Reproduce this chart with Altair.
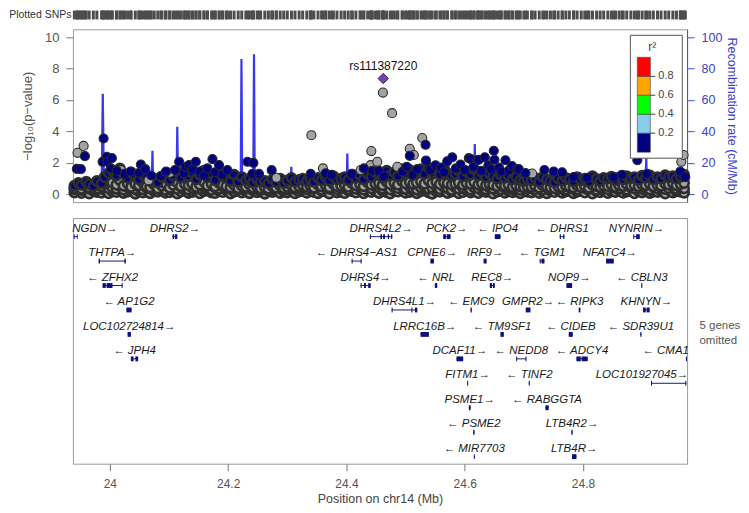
import altair as alt
import pandas as pd

# ---------------- data ----------------
# dense band of SNPs (position in Mb on chr14)
band_pos = [
    23.940, 23.947, 23.952, 23.960, 23.965, 23.972, 23.978, 23.986, 23.991, 23.998,
    24.004, 24.011, 24.017, 24.023, 24.030, 24.036, 24.043, 24.049, 24.056, 24.062,
    24.068, 24.075, 24.081, 24.088, 24.094, 24.101, 24.107, 24.114, 24.120, 24.127,
    24.133, 24.139, 24.146, 24.152, 24.159, 24.165, 24.172, 24.178, 24.185, 24.191,
    24.197, 24.204, 24.210, 24.217, 24.223, 24.230, 24.236, 24.242, 24.249, 24.255,
    24.262, 24.268, 24.275, 24.281, 24.288, 24.294, 24.300, 24.307, 24.313, 24.320,
    24.326, 24.333, 24.339, 24.345, 24.352, 24.358, 24.365, 24.371, 24.378, 24.384,
    24.391, 24.397, 24.403, 24.410, 24.416, 24.423, 24.429, 24.436, 24.442, 24.449,
    24.455, 24.461, 24.468, 24.474, 24.481, 24.487, 24.494, 24.500, 24.507, 24.513,
    24.519, 24.526, 24.532, 24.539, 24.545, 24.552, 24.558, 24.565, 24.571, 24.578,
    24.584, 24.590, 24.597, 24.603, 24.610, 24.616, 24.623, 24.629, 24.636, 24.642,
    24.648, 24.655, 24.661, 24.668, 24.674, 24.681, 24.687, 24.694, 24.700, 24.706,
    24.713, 24.719, 24.726, 24.732, 24.739, 24.745, 24.752, 24.758, 24.765, 24.771,
    24.777, 24.784, 24.790, 24.797, 24.803, 24.810, 24.816, 24.823, 24.829, 24.835,
    24.842, 24.848, 24.855, 24.861, 24.868, 24.874, 24.881, 24.887, 24.894, 24.900,
    24.906, 24.913, 24.919, 24.926, 24.932, 24.939, 24.945, 24.952, 24.958, 24.965,
    24.971,
]
band_lo = [
    0.12, 0.25, 0.08, 0.18, 0.05, 0.22, 0.15, 0.10, 0.28, 0.06,
    0.20, 0.14, 0.30, 0.09, 0.17, 0.24, 0.04, 0.19, 0.11, 0.26,
    0.07, 0.21, 0.16, 0.29, 0.10, 0.13, 0.23, 0.05, 0.18, 0.27,
    0.09, 0.15, 0.22, 0.06, 0.19, 0.25, 0.12, 0.08, 0.21, 0.14,
    0.27, 0.05, 0.17, 0.23, 0.11, 0.20, 0.07, 0.26, 0.13, 0.18,
    0.04, 0.22, 0.15, 0.28, 0.09, 0.19, 0.12, 0.24, 0.06, 0.17,
    0.21, 0.10, 0.26, 0.14, 0.07, 0.23, 0.18, 0.05, 0.29, 0.12,
    0.16, 0.08, 0.25, 0.20, 0.11, 0.27, 0.06, 0.19, 0.14, 0.22,
    0.09, 0.24, 0.13, 0.05, 0.21, 0.17, 0.28, 0.10, 0.15, 0.23,
    0.07, 0.19, 0.26, 0.12, 0.04, 0.20, 0.16, 0.25, 0.09, 0.18,
    0.22, 0.06, 0.14, 0.27, 0.11, 0.19, 0.08, 0.24, 0.15, 0.21,
    0.05, 0.17, 0.26, 0.10, 0.23, 0.13, 0.20, 0.07, 0.28, 0.16,
    0.12, 0.25, 0.09, 0.19, 0.06, 0.22, 0.14, 0.27, 0.10, 0.18,
    0.24, 0.07, 0.16, 0.21, 0.11, 0.26, 0.05, 0.19, 0.13, 0.23,
    0.08, 0.20, 0.15, 0.28, 0.10, 0.17, 0.24, 0.06, 0.21, 0.12,
    0.25, 0.09, 0.18, 0.14, 0.22, 0.05, 0.27, 0.11, 0.19, 0.16,
    0.10,
]
band_lo2 = [
    0.32, 0.45, 0.28, 0.40, 0.35, 0.48, 0.30, 0.42, 0.50, 0.38,
    0.44, 0.36, 0.52, 0.30, 0.46, 0.40, 0.34, 0.49, 0.31, 0.43,
    0.37, 0.47, 0.33, 0.51, 0.29, 0.41, 0.45, 0.35, 0.48, 0.39,
    0.30, 0.42, 0.50, 0.34, 0.46, 0.38, 0.29, 0.44, 0.36, 0.49,
    0.41, 0.33, 0.47, 0.30, 0.43, 0.36, 0.50, 0.32, 0.45, 0.28,
    0.35, 0.46, 0.30, 0.42, 0.38, 0.49, 0.31, 0.44, 0.34, 0.40,
    0.47, 0.32, 0.43, 0.37, 0.50, 0.29, 0.41, 0.36, 0.48, 0.33,
    0.39, 0.45, 0.31, 0.48, 0.35, 0.42, 0.30, 0.46, 0.38, 0.51,
    0.43, 0.36, 0.49, 0.32, 0.45, 0.40, 0.52, 0.34, 0.47, 0.38,
    0.31, 0.44, 0.50, 0.36, 0.42, 0.48, 0.33, 0.46, 0.39, 0.29,
    0.45, 0.35, 0.41, 0.49, 0.30, 0.43, 0.38, 0.47, 0.32, 0.44,
    0.36, 0.48, 0.31, 0.42, 0.46, 0.34, 0.40, 0.29, 0.45, 0.37,
    0.41, 0.33, 0.47, 0.30, 0.44, 0.38, 0.49, 0.35, 0.42, 0.31,
    0.46, 0.37, 0.32, 0.48, 0.40, 0.34, 0.45, 0.29, 0.43, 0.39,
    0.33, 0.47, 0.41, 0.36, 0.50, 0.30, 0.44, 0.38, 0.46, 0.35,
    0.42, 0.31, 0.48, 0.37, 0.45, 0.33, 0.40, 0.49, 0.34, 0.43,
    0.38,
]
band_mid = [
    0.40, 0.55, 0.35, 0.50, 0.45, 0.60, 0.38, 0.52, 0.70, 0.85,
    0.75, 0.62, 0.90, 0.55, 0.70, 0.48, 0.66, 0.58, 0.72, 0.50,
    0.45, 0.62, 0.38, 0.55, 0.68, 0.42, 0.60, 0.75, 0.52, 0.65,
    0.58, 0.70, 0.48, 0.62, 0.80, 0.55, 0.66, 0.50, 0.72, 0.60,
    0.52, 0.45, 0.60, 0.40, 0.55, 0.48, 0.62, 0.42, 0.50, 0.38,
    0.45, 0.36, 0.50, 0.42, 0.55, 0.40, 0.48, 0.58, 0.44, 0.52,
    0.60, 0.47, 0.55, 0.42, 0.62, 0.50, 0.58, 0.45, 0.66, 0.52,
    0.55, 0.62, 0.48, 0.70, 0.58, 0.65, 0.52, 0.75, 0.60, 0.68,
    0.72, 0.58, 0.80, 0.65, 0.75, 0.62, 0.85, 0.70, 0.78, 0.66,
    0.74, 0.82, 0.68, 0.88, 0.72, 0.80, 0.65, 0.76, 0.70, 0.62,
    0.68, 0.75, 0.60, 0.72, 0.66, 0.78, 0.62, 0.70, 0.58, 0.65,
    0.60, 0.52, 0.66, 0.55, 0.62, 0.48, 0.58, 0.50, 0.45, 0.52,
    0.48, 0.55, 0.42, 0.58, 0.50, 0.45, 0.40, 0.52, 0.46, 0.55,
    0.50, 0.44, 0.58, 0.48, 0.55, 0.42, 0.60, 0.52, 0.47, 0.56,
    0.53, 0.62, 0.48, 0.58, 0.52, 0.65, 0.55, 0.60, 0.50, 0.62,
    0.58, 0.66, 0.52, 0.60, 0.55, 0.68, 0.62, 0.70, 0.58, 0.65,
    0.72,
]
band_top = [
    0.55, 0.72, 0.60, 0.80, 0.65, 0.50, 0.85, 0.70, 1.10, 1.35,
    1.50, 1.20, 1.65, 1.30, 1.05, 1.40, 1.15, 0.95, 1.25, 1.10,
    0.85, 1.00, 0.75, 1.10, 1.30, 0.90, 1.20, 1.45, 1.05, 1.35,
    1.15, 1.40, 0.95, 1.25, 1.50, 1.10, 1.30, 0.90, 1.45, 1.20,
    1.05, 0.85, 1.25, 0.80, 1.10, 0.90, 1.00, 0.75, 0.95, 0.80,
    0.85, 0.70, 0.95, 0.78, 1.00, 0.72, 0.88, 1.05, 0.80, 0.92,
    1.00, 0.85, 0.95, 0.80, 1.05, 0.90, 1.10, 0.88, 1.15, 0.95,
    1.00, 1.10, 0.90, 1.25, 1.05, 1.20, 0.95, 1.30, 1.10, 1.40,
    1.30, 1.05, 1.50, 1.20, 1.40, 1.15, 1.60, 1.35, 1.55, 1.25,
    1.45, 1.60, 1.30, 1.70, 1.40, 1.55, 1.25, 1.65, 1.35, 1.20,
    1.30, 1.50, 1.15, 1.45, 1.25, 1.60, 1.20, 1.40, 1.10, 1.30,
    1.15, 1.00, 1.25, 1.05, 1.20, 0.95, 1.10, 0.90, 0.85, 0.95,
    0.90, 1.05, 0.80, 1.10, 0.95, 0.85, 0.78, 1.00, 0.88, 1.05,
    0.95, 0.82, 1.10, 0.90, 1.00, 0.80, 1.15, 0.98, 0.85, 1.05,
    1.00, 1.12, 0.90, 1.08, 0.95, 1.15, 1.02, 1.10, 0.92, 1.18,
    1.05, 1.20, 0.95, 1.10, 1.00, 1.22, 1.08, 1.15, 1.00, 1.12,
    1.25,
]

# SNPs without LD information (grey), standing out of the band
na_pos = [23.9453, 23.9556, 24.0186, 24.0654, 24.1014, 24.2816, 24.3407, 24.3603,
          24.4240, 24.4409, 24.4421, 24.4522, 24.4617, 24.4772, 24.4860, 24.5071,
          24.5140, 24.5282, 24.7140, 24.9662, 24.9701]
na_val = [2.64, 3.08, 1.54, 0.90, 1.37, 1.05, 3.76, 1.65,
          1.55, 1.86, 2.75, 2.07, 6.47, 5.16, 1.75, 2.90,
          2.50, 3.58, 1.32, 2.07, 2.50]

# SNPs with r2 < 0.2 (navy), standing out of the band
nv_pos = [23.9442, 23.9510, 23.9578, 23.9877, 23.9894, 23.9949, 23.9961, 24.0017,
          24.0034, 24.0118, 24.0250, 24.0350, 24.0495, 24.0524, 24.0600, 24.0700,
          24.0861, 24.0950, 24.1100, 24.1171, 24.1250, 24.1284, 24.1340, 24.1400,
          24.1453, 24.1520, 24.1593, 24.1650, 24.1735, 24.1780, 24.1846, 24.1900,
          24.1988, 24.2326, 24.2410, 24.2427, 24.2522, 24.2736, 24.3395, 24.3649,
          24.3750, 24.4088, 24.4296, 24.4438, 24.4549, 24.4633, 24.4950, 24.5020,
          24.5071, 24.5120, 24.5200, 24.5338, 24.5345, 24.5420, 24.5507, 24.5600,
          24.5650, 24.5704, 24.5789, 24.5850, 24.5929, 24.6000, 24.6069, 24.6098,
          24.6150, 24.6211, 24.6238, 24.6280, 24.6340, 24.6400, 24.6450, 24.6492,
          24.6503, 24.6580, 24.6620, 24.6689, 24.6750, 24.6800, 24.6887, 24.6914,
          24.7027, 24.7348, 24.7505, 24.7647, 24.7843, 24.8069, 24.8519, 24.8660,
          24.8919, 24.9083, 24.9645, 24.9730]
nv_val = [1.62, 1.60, 2.43, 2.07, 3.55, 2.39, 2.07, 1.65,
          2.30, 1.50, 1.30, 1.45, 1.37, 1.90, 1.60, 1.20,
          1.16, 1.45, 1.55, 2.07, 1.35, 1.75, 1.86, 1.60,
          2.07, 1.45, 1.20, 1.65, 2.24, 1.40, 1.86, 1.25,
          1.54, 2.07, 1.30, 2.00, 1.30, 1.54, 1.30, 1.34,
          1.24, 1.30, 1.65, 1.50, 1.50, 1.15, 1.45, 1.75,
          2.45, 1.25, 1.60, 3.15, 2.15, 1.55, 1.85, 1.70,
          1.40, 2.10, 2.35, 1.65, 1.90, 1.55, 2.30, 2.25,
          1.75, 2.17, 2.20, 1.50, 2.35, 1.85, 1.60, 2.77,
          2.20, 1.70, 1.45, 2.17, 1.55, 1.80, 1.60, 1.60,
          1.35, 1.55, 1.45, 1.40, 1.10, 1.05, 1.10, 1.25,
          2.17, 1.30, 1.45, 1.10]

lead_name = ["rs111387220"]
lead_pos = [24.4623]
lead_val = [7.36]

# recombination rate (cM/Mb)
recomb_pos = [23.9375, 23.9600, 23.9860, 23.9880, 23.9900, 24.0200, 24.0500, 24.0705,
              24.0720, 24.0735, 24.1000, 24.1125, 24.1140, 24.1155, 24.1500, 24.2000,
              24.2212, 24.2225, 24.2238, 24.2424, 24.2437, 24.2450, 24.2700, 24.3055,
              24.3068, 24.3081, 24.3500, 24.4002, 24.4015, 24.4028, 24.4500, 24.5000,
              24.5500, 24.6157, 24.6170, 24.6183, 24.7000, 24.7932, 24.7945, 24.7958,
              24.8500, 24.9057, 24.9070, 24.9083, 24.9760]
recomb_rate = [1.0, 0.6, 1.4, 64.0, 1.8, 0.8, 1.2, 1.0,
               27.7, 1.0, 0.5, 1.6, 43.0, 1.4, 0.6, 1.0,
               2.5, 86.0, 2.0, 2.8, 89.0, 2.2, 0.5, 1.0,
               17.5, 1.0, 0.8, 1.2, 26.0, 1.0, 0.5, 1.0,
               0.7, 1.0, 32.0, 1.0, 0.6, 1.0, 14.0, 1.0,
               0.8, 2.0, 24.0, 2.0, 1.0]

# genes
gene_name = ["NGDN", "DHRS2", "DHRS4L2", "PCK2", "IPO4", "DHRS1", "NYNRIN",
             "THTPA", "DHRS4\u2212AS1", "CPNE6", "IRF9", "TGM1", "NFATC4",
             "ZFHX2", "DHRS4", "NRL", "REC8", "NOP9", "CBLN3",
             "AP1G2", "DHRS4L1", "EMC9", "GMPR2", "RIPK3", "KHNYN",
             "LOC102724814", "LRRC16B", "TM9SF1", "CIDEB", "SDR39U1",
             "JPH4", "DCAF11", "NEDD8", "ADCY4", "CMA1",
             "FITM1", "TINF2", "LOC101927045",
             "PSME1", "RABGGTA",
             "PSME2", "LTB4R2",
             "MIR7703", "LTB4R"]
gene_strand = ["+", "+", "+", "+", "-", "-", "+",
               "+", "-", "+", "+", "-", "+",
               "-", "+", "-", "+", "+", "-",
               "-", "+", "-", "+", "-", "+",
               "+", "+", "-", "-", "-",
               "-", "+", "-", "-", "-",
               "+", "-", "+",
               "+", "-",
               "-", "+",
               "-", "+"]
gene_row = [1, 1, 1, 1, 1, 1, 1,
            2, 2, 2, 2, 2, 2,
            3, 3, 3, 3, 3, 3,
            4, 4, 4, 4, 4, 4,
            5, 5, 5, 5, 5,
            6, 6, 6, 6, 6,
            7, 7, 7,
            8, 8,
            9, 9,
            10, 10]
gene_start = [23.9390, 24.1060, 24.4397, 24.5636, 24.6509, 24.7607, 24.8850,
              23.9810, 24.4088, 24.5420, 24.6320, 24.7268, 24.8390,
              23.9877, 24.4240, 24.5495, 24.6424, 24.7720, 24.8986,
              24.0280, 24.4764, 24.6098, 24.7032, 24.7928, 24.9014,
              24.0300, 24.5253, 24.6605, 24.7759, 24.8970,
              24.0355, 24.5861, 24.6870, 24.7889, 24.9740,
              24.6042, 24.7083, 24.9150,
              24.6070, 24.7365,
              24.6143, 24.7804,
              24.6154, 24.7815]
gene_end = [23.9455, 24.1140, 24.4775, 24.5760, 24.6605, 24.7686, 24.8960,
            24.0270, 24.4257, 24.5480, 24.6370, 24.7348, 24.8520,
            24.0215, 24.4409, 24.5535, 24.6509, 24.7816, 24.9003,
            24.0367, 24.5198, 24.6120, 24.7111, 24.7956, 24.9127,
            24.0355, 24.5394, 24.6661, 24.7827, 24.8990,
            24.0478, 24.5974, 24.7044, 24.8080, 24.9755,
            24.6056, 24.7100, 24.9747,
            24.6100, 24.7420,
            24.6166, 24.7826,
            24.6168, 24.7889]

# exon blocks of the genes drawn with visible introns
exon_gene = ["NGDN", "NGDN", "DHRS2", "DHRS2",
             "DHRS4L2", "DHRS4L2", "DHRS4L2", "DHRS4L2", "DHRS4L2",
             "PCK2", "PCK2", "DHRS1", "DHRS1", "NYNRIN", "NYNRIN",
             "THTPA", "THTPA", "DHRS4\u2212AS1", "DHRS4\u2212AS1", "TGM1", "TGM1",
             "ZFHX2", "ZFHX2", "ZFHX2", "DHRS4", "DHRS4", "DHRS4", "REC8", "REC8",
             "DHRS4L1", "DHRS4L1", "DHRS4L1", "KHNYN", "KHNYN",
             "JPH4", "JPH4", "NEDD8", "NEDD8", "ADCY4", "ADCY4",
             "LOC101927045", "LOC101927045"]
exon_start = [23.9390, 23.9441, 24.1060, 24.1102,
              24.4397, 24.4575, 24.4620, 24.4700, 24.4755,
              24.5636, 24.5696, 24.7607, 24.7664, 24.8850, 24.8898,
              23.9810, 24.0246, 24.4088, 24.4240, 24.7268, 24.7298,
              23.9877, 23.9945, 24.0199, 24.4240, 24.4298, 24.4368, 24.6424, 24.6476,
              24.4764, 24.5098, 24.5158, 24.9014, 24.9076,
              24.0355, 24.0432, 24.6870, 24.7027, 24.7889, 24.7976,
              24.9150, 24.9730]
exon_end = [23.9404, 23.9455, 24.1088, 24.1140,
            24.4414, 24.4602, 24.4652, 24.4722, 24.4775,
            24.5682, 24.5760, 24.7626, 24.7686, 24.8867, 24.8960,
            23.9832, 24.0270, 24.4105, 24.4257, 24.7285, 24.7348,
            23.9930, 24.0044, 24.0215, 24.4257, 24.4330, 24.4409, 24.6462, 24.6509,
            24.4781, 24.5116, 24.5198, 24.9062, 24.9127,
            24.0400, 24.0478, 24.6887, 24.7044, 24.7962, 24.8080,
            24.9167, 24.9747]

omitted_text = ["5 genes", "omitted"]

# ---------------- tables ----------------
XDOM = [23.9375, 24.976]
YDOM = [-0.49, 10.49]
RDOM = [-4.9, 104.9]
GDOM = [-0.06, 9.99]
FONT = "Liberation Sans"
PPM = 592.0  # pixels per Mb

band_rows = []
band_rows += [(p, v, "NA") for p, v in zip(band_pos, band_lo)]
band_rows += [(p, v, "NA") for p, v in zip(band_pos, band_lo2)]
band_rows += [(p, v, "NA") for p, v in zip(band_pos, band_mid)]
band_rows += [(p, v, "low") for p, v in zip(band_pos, band_top)]
band = pd.DataFrame(band_rows, columns=["pos", "logp", "ld"])

hi_rows = []
hi_rows += [(p, v, "NA") for p, v in zip(na_pos, na_val)]
hi_rows += [(p, v, "low") for p, v in zip(nv_pos, nv_val)]
hi = pd.DataFrame(hi_rows, columns=["pos", "logp", "ld"])

lead = pd.DataFrame({"pos": lead_pos, "logp": lead_val, "name": lead_name})
rec = pd.DataFrame({"pos": recomb_pos, "rate": recomb_rate})

# strip of plotted SNPs, drawn just above the association panel
rug = pd.DataFrame({"pos": band_pos + na_pos + nv_pos + lead_pos})
rug["ya"] = 11.12
rug["yb"] = 11.68
rug_lab = pd.DataFrame({"x": [XDOM[0] - 1.5 / PPM], "y": [11.40], "t": ["Plotted SNPs"]})

# legend (drawn inside the plot, in data units of the main panel)
leg_colors = ["#000080", "#87CEEB", "#00FF00", "#FFA500", "#FF0000"]
leg_edges = [2.68, 3.89, 5.09, 6.30, 7.50, 8.71]
leg_labels = ["0.2", "0.4", "0.6", "0.8"]
leg_box = pd.DataFrame({"x1": [24.8801], "x2": [24.9679], "y1": [2.30], "y2": [10.11]})
leg_band = pd.DataFrame({"x1": 24.8919, "x2": 24.9139, "y1": leg_edges[:-1],
                         "y2": leg_edges[1:], "c": leg_colors})
leg_tick = pd.DataFrame({"x1": 24.9139, "x2": 24.9223, "y": leg_edges[1:-1], "t": leg_labels})
leg_title = pd.DataFrame({"x": [24.9172], "y": [9.35], "t": ["r\u00b2"]})

genes = pd.DataFrame({"name": gene_name, "strand": gene_strand, "row": gene_row,
                      "start": gene_start, "end": gene_end})
genes["label"] = [n + "\u2192" if s == "+" else "\u2190 " + n
                  for n, s in zip(genes["name"], genes["strand"])]
genes["ybar"] = genes["row"] - 1 + 0.70
genes["ylab"] = genes["row"] - 1 + 0.38
half = genes["label"].str.len() * 6.8 / 2 / PPM
mid = (genes["start"] + genes["end"]) / 2
genes["lx"] = [min(max(m, XDOM[0] + h + 5 / PPM), XDOM[1] - h - 1 / PPM)
               for m, h in zip(mid, half)]

ex_rows = []
for n, s, e, r in zip(gene_name, gene_start, gene_end, gene_row):
    if n in exon_gene:
        for g, a, b in zip(exon_gene, exon_start, exon_end):
            if g == n:
                ex_rows.append((a, b, r))
    else:
        ex_rows.append((s, max(e, s + 0.0017), r))
exons = pd.DataFrame(ex_rows, columns=["start", "end", "row"])
exons["y1"] = exons["row"] - 1 + 0.60
exons["y2"] = exons["row"] - 1 + 0.80

omit = pd.DataFrame({"x": 24.997, "y": [4.37, 4.98], "t": omitted_text})

# ---------------- encodings ----------------
XSCALE = alt.Scale(domain=XDOM, nice=False, zero=False)
LD_FILL = alt.Scale(domain=["NA", "low"], range=["#A4A4A4", "#000080"])

bottom_axis = alt.Axis(values=[24, 24.2, 24.4, 24.6, 24.8], format="~g",
                       title="Position on chr14 (Mb)", domain=False, grid=False,
                       tickSize=7, tickColor="#777", labelColor="#555", labelFontSize=12,
                       labelPadding=8, titleFontSize=12.5, titleColor="#444",
                       titleFontWeight="normal", titlePadding=3)

left_axis = alt.Axis(orient="left", values=[0, 2, 4, 6, 8, 10],
                     title="\u2212log\u2081\u2080(p\u2212value)",
                     domain=False, grid=False, tickSize=7, tickColor="#777", labelColor="#555",
                     labelFontSize=13, labelPadding=7, titleFontSize=13, titleColor="#555",
                     titleFontWeight="normal", titlePadding=10)


def xm(field):
    return alt.X(f"{field}:Q", scale=XSCALE, axis=None)


def xg(field):
    return alt.X(f"{field}:Q", scale=XSCALE, axis=bottom_axis)


def ym(field):
    return alt.Y(f"{field}:Q", scale=alt.Scale(domain=YDOM, nice=False, zero=False), axis=left_axis)


def gy(field):
    return alt.Y(f"{field}:Q", scale=alt.Scale(domain=GDOM, nice=False, zero=False, reverse=True),
                 axis=None)


# ---------------- association panel ----------------
recomb = alt.Chart(rec).mark_line(color="#3838F0", strokeWidth=2.2, clip=True).encode(
    x=xm("pos"),
    y=alt.Y("rate:Q", scale=alt.Scale(domain=RDOM, nice=False, zero=False),
            axis=alt.Axis(orient="right", values=[0, 20, 40, 60, 80, 100],
                          title="Recombination rate (cM/Mb)", grid=False,
                          domainColor="#4848d8", tickColor="#4848d8", tickSize=7,
                          labelColor="#4040c8", labelFontSize=12.5, labelPadding=7,
                          titleColor="#4040c8", titleFontSize=12.5, titleFontWeight="normal",
                          titlePadding=3)),
)

rug_marks = alt.Chart(rug).mark_rule(color="#4d4d4d", strokeWidth=3).encode(
    x=xm("pos"), y=ym("ya"), y2=alt.Y2("yb:Q"))
rug_text = alt.Chart(rug_lab).mark_text(align="right", baseline="middle", fontSize=10.5,
                                        color="#333", font=FONT).encode(
    x=xm("x"), y=ym("y"), text="t:N")

band_pts = alt.Chart(band).mark_circle(size=86, stroke="#2e2e2e", strokeWidth=2.6, opacity=1).encode(
    x=xm("pos"), y=ym("logp"), fill=alt.Fill("ld:N", scale=LD_FILL, legend=None))
hi_pts = alt.Chart(hi).mark_circle(size=82, stroke="#2a2a2a", strokeWidth=1.1, opacity=1).encode(
    x=xm("pos"), y=ym("logp"), fill=alt.Fill("ld:N", scale=LD_FILL, legend=None))
lead_pt = alt.Chart(lead).mark_point(shape="diamond", filled=True, size=110, fill="#7D3CC0",
                                     stroke="#333", strokeWidth=1, opacity=1).encode(
    x=xm("pos"), y=ym("logp"))
lead_txt = alt.Chart(lead).mark_text(dy=-13, fontSize=12, color="#111", font=FONT).encode(
    x=xm("pos"), y=ym("logp"), text="name:N")

lg_box = alt.Chart(leg_box).mark_rect(fill="white", stroke="#555", strokeWidth=1).encode(
    x=xm("x1"), x2=alt.X2("x2:Q"), y=ym("y1"), y2=alt.Y2("y2:Q"))
lg_band = alt.Chart(leg_band).mark_rect(stroke="#444", strokeWidth=0.6).encode(
    x=xm("x1"), x2=alt.X2("x2:Q"), y=ym("y1"), y2=alt.Y2("y2:Q"),
    fill=alt.Fill("c:N", scale=None))
lg_tick = alt.Chart(leg_tick).mark_rule(color="#444", strokeWidth=1).encode(
    x=xm("x1"), x2=alt.X2("x2:Q"), y=ym("y"))
lg_lab = alt.Chart(leg_tick).mark_text(align="left", baseline="middle", dx=3, fontSize=11,
                                       color="#444", font=FONT).encode(
    x=xm("x2"), y=ym("y"), text="t:N")
lg_title = alt.Chart(leg_title).mark_text(baseline="middle", fontSize=12, color="#444",
                                          font=FONT).encode(
    x=xm("x"), y=ym("y"), text="t:N")

assoc = alt.layer(rug_marks, rug_text, band_pts, hi_pts, lead_pt, lead_txt,
                  lg_box, lg_band, lg_tick, lg_lab, lg_title)
main = alt.layer(recomb, assoc).resolve_scale(y="independent").properties(
    width=615, height=173, view=alt.ViewBackground(stroke="#9a9a9a", strokeWidth=1))

# ---------------- gene panel ----------------
g_line = alt.Chart(genes).mark_rule(color="#1a1a7a", strokeWidth=1).encode(
    x=xg("start"), x2=alt.X2("end:Q"), y=gy("ybar"))
g_exon = alt.Chart(exons).mark_rect(color="#10107a").encode(
    x=xg("start"), x2=alt.X2("end:Q"), y=gy("y1"), y2=alt.Y2("y2:Q"))
g_text = alt.Chart(genes).mark_text(fontStyle="italic", fontSize=11.5, color="#1a1a1a",
                                    baseline="middle", font=FONT).encode(
    x=xg("lx"), y=gy("ylab"), text="label:N")
g_omit = alt.Chart(omit).mark_text(align="left", baseline="middle", fontSize=11.5,
                                   color="#555", font=FONT).encode(
    x=xg("x"), y=gy("y"), text="t:N")

gene_panel = alt.layer(g_line, g_exon, g_text, g_omit).properties(
    width=615, height=246, view=alt.ViewBackground(stroke="#9a9a9a", strokeWidth=1))

chart = alt.vconcat(main, gene_panel, spacing=16, bounds="flush").configure(
    font=FONT, padding={"left": 0, "top": 0, "right": 0, "bottom": 0}
).configure_view(stroke="transparent").configure_axis(labelFont=FONT, titleFont=FONT)

chart.save("out.html", embed_options={"renderer": "svg", "actions": False})
